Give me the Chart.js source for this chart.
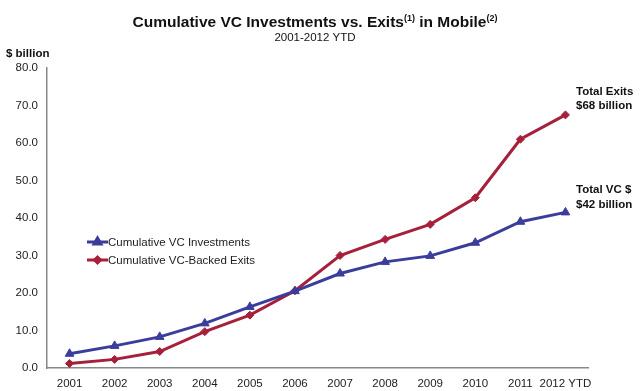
<!DOCTYPE html>
<html>
<head>
<meta charset="utf-8">
<script src="https://cdn.jsdelivr.net/npm/chart.js@4.4.1/dist/chart.umd.min.js"></script>
<style>
  html, body { margin: 0; padding: 0; background: #fff; }
  #wrap { width: 640px; height: 391px; }
</style>
</head>
<body>
<div id="wrap"><canvas id="lineChart"></canvas></div>
<script>
var years = ["2001", "2002", "2003", "2004", "2005", "2006", "2007", "2008", "2009", "2010", "2011", "2012 YTD"];
var vcInvest = [3.8, 5.9, 8.3, 11.9, 16.3, 20.5, 25.2, 28.3, 29.9, 33.4, 39.0, 41.5];
var vcExits = [1.2, 2.3, 4.4, 9.7, 14.1, 20.6, 30.0, 34.3, 38.3, 45.4, 61.0, 67.5];
var seriesNames = ["Cumulative VC Investments", "Cumulative VC-Backed Exits"];
var lineColors = ["#3b3d9a", "#a6203b"];

var FONT = "'Liberation Sans', Arial, sans-serif";

// title, notes and the legend are drawn by hand
var textPlugin = {
    id: "texts",
    afterDraw: function (chart) {
        var ctx = chart.ctx;
        ctx.save();
        ctx.fillStyle = "#111";
        ctx.textBaseline = "alphabetic";

        // title with superscripts
        var parts = [
            ["Cumulative VC Investments vs. Exits", "bold 15.5px " + FONT, 0],
            ["(1)", "bold 9px " + FONT, -6],
            [" in Mobile", "bold 15.5px " + FONT, 0],
            ["(2)", "bold 9px " + FONT, -6]
        ];
        var total = 0;
        parts.forEach(function (p) { ctx.font = p[1]; total += ctx.measureText(p[0]).width; });
        var x = 315 - total / 2;
        ctx.textAlign = "left";
        parts.forEach(function (p) {
            ctx.font = p[1];
            ctx.fillText(p[0], x, 27 + p[2]);
            x += ctx.measureText(p[0]).width;
        });

        ctx.font = "11.5px " + FONT;
        ctx.textAlign = "center";
        ctx.fillText("2001-2012 YTD", 315, 41);

        ctx.font = "bold 11.5px " + FONT;
        ctx.textAlign = "left";
        ctx.fillText("$ billion", 6, 57);
        ctx.fillText("Total Exits", 576, 95);
        ctx.fillText("$68 billion", 576, 109);
        ctx.fillText("Total VC $", 576, 193);
        ctx.fillText("$42 billion", 576, 208);

        // legend
        var ly = [242, 260];
        ctx.font = "11.5px " + FONT;
        chart.data.datasets.forEach(function (ds, i) {
            ctx.strokeStyle = ds.borderColor;
            ctx.lineWidth = 3;
            ctx.beginPath();
            ctx.moveTo(87, ly[i]);
            ctx.lineTo(108, ly[i]);
            ctx.stroke();
            ctx.fillStyle = ds.borderColor;
            Chart.helpers.drawPoint(ctx, { pointStyle: ds.pointStyle, radius: ds.pointRadius - 1, rotation: 0, borderWidth: 1 }, 97.5, ly[i]);
            ctx.fillStyle = "#222";
            ctx.textBaseline = "middle";
            ctx.fillText(ds.label, 108, ly[i] + 0.5);
        });
        ctx.restore();
    }
};

new Chart("lineChart", {
    type: "line",
    data: {
        labels: years,
        datasets: [{
            label: seriesNames[0],
            data: vcInvest,
            borderColor: lineColors[0],
            backgroundColor: lineColors[0],
            borderWidth: 3,
            pointStyle: "triangle",
            pointRadius: 5,
            pointBorderWidth: 1
        }, {
            label: seriesNames[1],
            data: vcExits,
            borderColor: lineColors[1],
            backgroundColor: lineColors[1],
            borderWidth: 3,
            pointStyle: "rectRot",
            pointRadius: 4,
            pointBorderWidth: 1
        }]
    },
    options: {
        responsive: true,
        maintainAspectRatio: false,
        animation: false,
        layout: { padding: { left: 0, right: 52, top: 68, bottom: 0 } },
        plugins: {
            legend: { display: false },
            tooltip: { enabled: false }
        },
        scales: {
            x: {
                offset: true,
                grid: { display: false, drawTicks: false },
                border: { color: "#888", width: 1.5 },
                ticks: { color: "#222", font: { family: FONT, size: 11.5 }, padding: 9, maxRotation: 0, autoSkip: false },
                afterFit: function (s) { s.height = 23; }
            },
            y: {
                min: 0,
                max: 80,
                grid: { display: false, drawTicks: false },
                border: { color: "#888", width: 1.5 },
                ticks: {
                    stepSize: 10,
                    color: "#222",
                    padding: 9,
                    font: { family: FONT, size: 11.5 },
                    callback: function (v) { return v.toFixed(1); }
                },
                afterFit: function (s) { s.width = 47; }
            }
        }
    },
    plugins: [textPlugin]
});
</script>
</body>
</html>
